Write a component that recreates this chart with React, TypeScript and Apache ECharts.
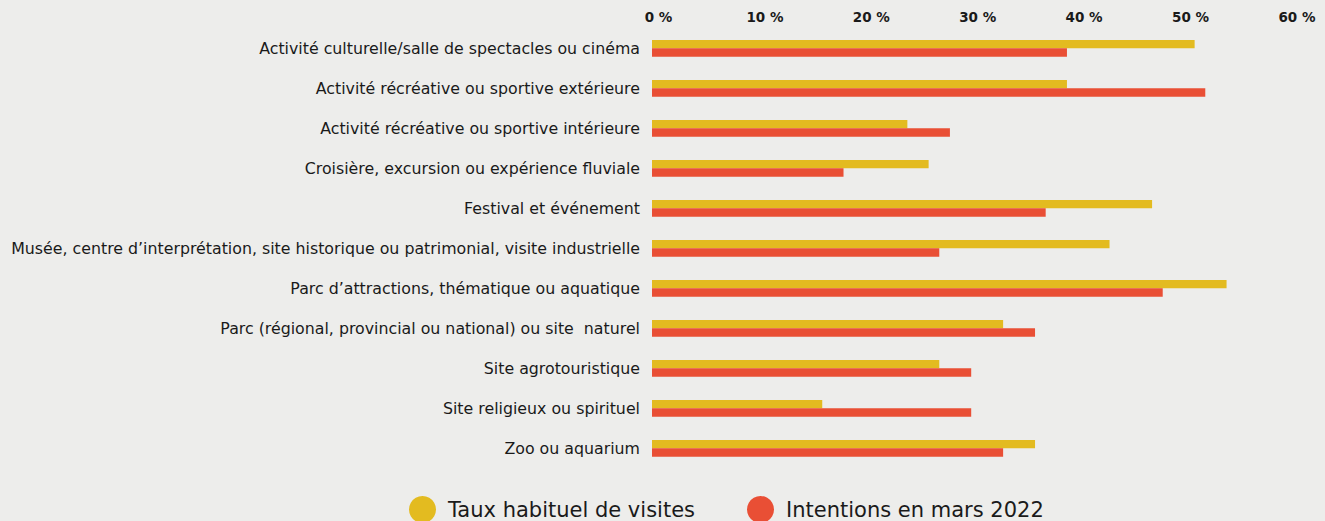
import React, { useEffect, useRef } from "react";
import * as echarts from "echarts";

const categories = [
  "Activité culturelle/salle de spectacles ou cinéma",
  "Activité récréative ou sportive extérieure",
  "Activité récréative ou sportive intérieure",
  "Croisière, excursion ou expérience fluviale",
  "Festival et événement",
  "Musée, centre d’interprétation, site historique ou patrimonial, visite industrielle",
  "Parc d’attractions, thématique ou aquatique",
  "Parc (régional, provincial ou national) ou site  naturel",
  "Site agrotouristique",
  "Site religieux ou spirituel",
  "Zoo ou aquarium",
];

const tauxHabituel = [51, 39, 24, 26, 47, 43, 54, 33, 27, 16, 36];
const intentions2022 = [39, 52, 28, 18, 37, 27, 48, 36, 30, 30, 33];

const seriesNames = ["Taux habituel de visites", "Intentions en mars 2022"];
const colors = ["#E3BB20", "#E94F35"];

export default function App() {
  const ref = useRef<HTMLDivElement>(null);
  useEffect(() => {
    if (!ref.current) return;
    const chart = echarts.init(ref.current, undefined, { renderer: "svg" });
    const font = "'DejaVu Sans', sans-serif";
    chart.setOption({
      animation: false,
      backgroundColor: "#EDEDEB",
      textStyle: { fontFamily: font },
      grid: { left: 652, right: 34.6, top: 28.3, bottom: 52.7, containLabel: false },
      legend: {
        data: seriesNames,
        left: 404,
        top: 491,
        icon: "circle",
        itemWidth: 27,
        itemHeight: 27,
        itemGap: 52,
        textStyle: { fontSize: 21, lineHeight: 22, color: "#1a1a1a", fontFamily: font, padding: [0, 0, 0, 7] },
      },
      xAxis: {
        type: "value",
        position: "top",
        min: 0,
        max: 60,
        interval: 10,
        axisLine: { show: false },
        axisTick: { show: false },
        splitLine: { show: false },
        axisLabel: {
          formatter: "{value} %",
          fontSize: 13.5,
          fontWeight: "bold",
          color: "#1a1a1a",
          margin: 4,
          padding: [0, 0, 0, 13],
        },
      },
      yAxis: {
        type: "category",
        data: categories,
        inverse: true,
        axisLine: { show: false },
        axisTick: { show: false },
        axisLabel: { fontSize: 15.8, color: "#1a1a1a", margin: 12 },
      },
      series: [
        {
          name: seriesNames[0],
          type: "bar",
          data: tauxHabituel,
          itemStyle: { color: colors[0] },
          barGap: "0%",
          barCategoryGap: "58%",
        },
        {
          name: seriesNames[1],
          type: "bar",
          data: intentions2022,
          itemStyle: { color: colors[1] },
          barGap: "0%",
          barCategoryGap: "58%",
        },
      ],
    });
    return () => chart.dispose();
  }, []);
  return <div ref={ref} style={{ position: "fixed", left: 0, top: 0, width: 1325, height: 521 }} />;
}
